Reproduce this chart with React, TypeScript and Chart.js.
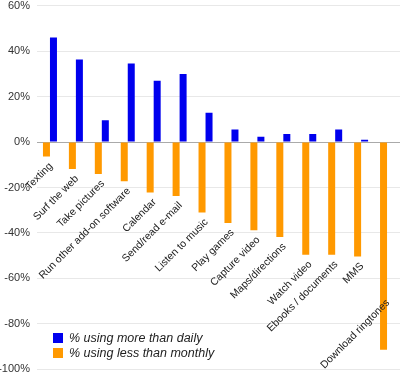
import React, { useEffect, useRef } from "react";
import { Chart, registerables } from "chart.js";
Chart.register(...registerables);

const categories = [
  "Texting", "Surf the web", "Take pictures", "Run other add-on software", "Calendar",
  "Send/read e-mail", "Listen to music", "Play games", "Capture video", "Maps/directions",
  "Watch video", "Ebooks / documents", "MMS", "Download ringtones",
];
const moreThanDaily = [46, 36.3, 9.6, 34.5, 27, 29.9, 12.9, 5.5, 2.3, 3.5, 3.5, 5.5, 1, 0];
const lessThanMonthly = [-6.4, -11.9, -14.1, -17.3, -22.2, -23.7, -31, -35.6, -38.8, -41.8, -49.6, -49.6, -50.4, -91.4];
const seriesNames = ["% using more than daily", "% using less than monthly"];
const BLUE = "#0000ee";
const ORANGE = "#ff9900";

const labelPlugin = {
  id: "catLabels",
  afterDatasetsDraw(chart: any) {
    const { ctx, scales } = chart;
    const xs = scales.x, ys = scales.y;
    ctx.save();
    ctx.font = "10.5px 'Liberation Sans', Arial, sans-serif";
    ctx.fillStyle = "#222";
    ctx.textAlign = "right";
    ctx.textBaseline = "middle";
    categories.forEach((c, i) => {
      const v = Math.max(lessThanMonthly[i], -66.5);
      const x = xs.getPixelForValue(i) + 1;
      const y = ys.getPixelForValue(v) + 8;
      ctx.save();
      ctx.translate(x, y);
      ctx.rotate(-Math.PI / 4);
      ctx.fillText(c, 0, 0);
      ctx.restore();
    });
    ctx.restore();
  },
};

export default function App() {
  const ref = useRef<HTMLCanvasElement>(null);
  useEffect(() => {
    const chart = new Chart(ref.current!, {
      type: "bar",
      data: {
        labels: categories,
        datasets: [
          { label: seriesNames[1], data: lessThanMonthly, backgroundColor: ORANGE },
          { label: seriesNames[0], data: moreThanDaily, backgroundColor: BLUE },
        ],
      },
      options: {
        animation: false,
        responsive: false,
        layout: { padding: 0 },
        plugins: { legend: { display: false }, tooltip: { enabled: false } },
        datasets: { bar: { categoryPercentage: 0.54, barPercentage: 1 } },
        scales: {
          x: { display: false },
          y: {
            min: -100,
            max: 60,
            afterFit: (s: any) => { s.width = 37; },
            border: { display: false },
            grid: {
              color: (c: any) => (c.tick && c.tick.value === 0 ? "#aaaaaa" : "#e8e8e8"),
              drawTicks: false,
            },
            ticks: {
              stepSize: 20,
              padding: 7,
              color: "#333",
              font: { family: "'Liberation Sans', Arial, sans-serif", size: 11 },
              callback: (v: any) => v + "%",
            },
          },
        },
      },
      plugins: [labelPlugin],
    });
    return () => chart.destroy();
  }, []);
  const row = (color: string, text: string, top: number) => (
    <div style={{ position: "absolute", left: 53, top, display: "flex", alignItems: "center", height: 11 }}>
      <div style={{ width: 10, height: 10, background: color, marginRight: 6 }} />
      <span style={{ font: "italic 12.5px 'Liberation Sans', Arial, sans-serif", color: "#222", whiteSpace: "nowrap" }}>{text}</span>
    </div>
  );
  return (
    <div style={{ position: "absolute", left: 0, top: 0, width: 400, height: 372, background: "#fff", overflow: "hidden" }}>
      <canvas ref={ref} width={400} height={391} style={{ display: "block", position: "absolute", left: 0, top: -8 }} />
      {row(BLUE, seriesNames[0], 332)}
      {row(ORANGE, seriesNames[1], 347)}
    </div>
  );
}
